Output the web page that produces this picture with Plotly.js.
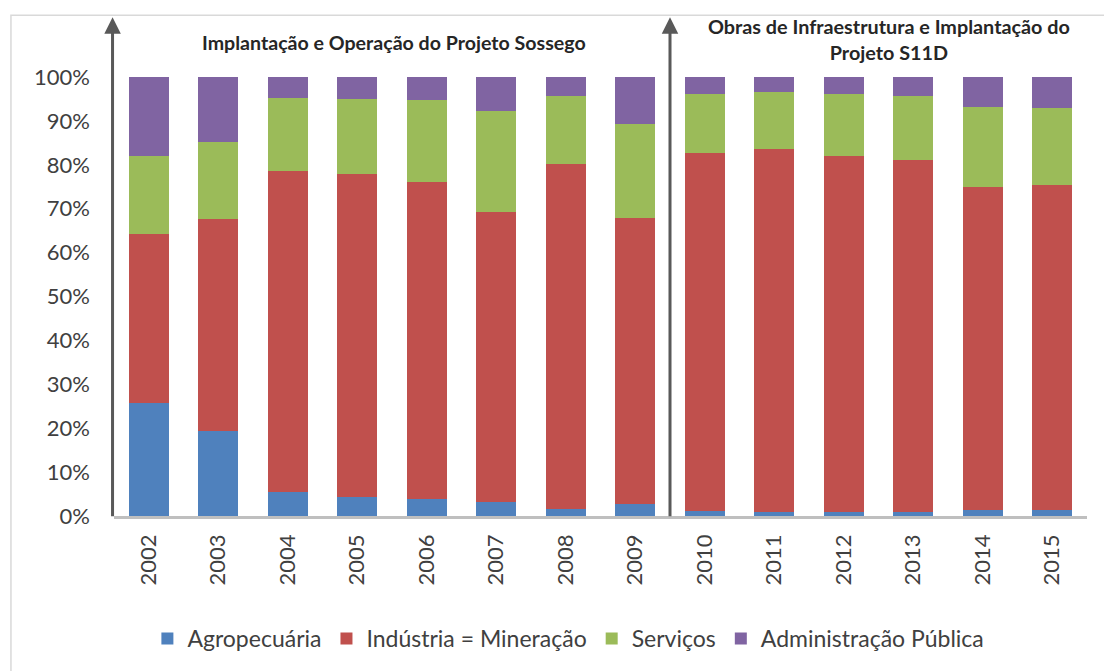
<!DOCTYPE html>
<html>
<head>
<meta charset="utf-8">
<script src="https://cdn.plot.ly/plotly-3.0.1.min.js"></script>
<style>html,body{margin:0;padding:0;background:#fff;}#chart{width:1104px;height:671px;}</style>
</head>
<body>
<div id="chart"></div>
<script>
const years = ['2002','2003','2004','2005','2006','2007','2008','2009','2010','2011','2012','2013','2014','2015'];
const agropecuaria = [25.8,19.4,5.5,4.4,3.9,3.3,1.5,2.7,1.1,0.8,0.8,0.9,1.3,1.3];
const industria = [38.4,48.3,73.1,73.6,72.2,65.9,78.6,65.2,81.5,82.8,81.2,80.2,73.7,74.1];
const servicos = [17.7,17.6,16.7,16.9,18.7,23.1,15.5,21.3,13.6,12.9,14.2,14.5,18.2,17.6];
const administracao = [18.1,14.7,4.7,5.1,5.2,7.7,4.4,10.8,3.8,3.5,3.8,4.4,6.8,7.0];
const seriesNames = ['Agropecuária','Indústria = Mineração','Serviços','Administração Pública'];
const seriesColors = ['#4F81BD','#C0504D','#9BBB59','#8064A2'];
const periodTitles = ['<b>Implantação e Operação do Projeto Sossego</b>','<b>Obras de Infraestrutura e Implantação do<br>Projeto S11D</b>'];

const FONT = 'Lato, "Open Sans", "Liberation Sans", sans-serif';
const values = [agropecuaria, industria, servicos, administracao];
const traces = values.map((v, i) => ({
  type: 'bar', name: seriesNames[i], x: years, y: v,
  marker: {color: seriesColors[i]}, hoverinfo: 'x+y+name'
}));

const arrow = (xref, x) => ({
  xref: xref, x: x, yref: 'paper', y: 1.136, text: ' ', showarrow: true,
  axref: 'pixel', ayref: 'pixel', ax: 0, ay: 500,
  font: {size: 1}, borderpad: 0,
  arrowhead: 2, arrowsize: 1.1, arrowwidth: 3, arrowcolor: '#595959', standoff: 0
});

const layout = {
  width: 1104, height: 671,
  margin: {l: 114, r: 17, t: 77, b: 154},
  paper_bgcolor: '#ffffff', plot_bgcolor: '#ffffff',
  barmode: 'stack', bargap: 0.425,
  font: {family: FONT, color: '#404040', size: 22},
  xaxis: {
    type: 'category', range: [-0.5, 13.5], tickangle: -90,
    showline: true, linecolor: '#bfbfbf', linewidth: 2.5,
    ticks: '', showgrid: false, zeroline: false, ticklabelstandoff: 7,
    tickfont: {family: FONT, size: 22, color: '#404040'}
  },
  yaxis: {
    range: [0, 100], dtick: 10, ticksuffix: '%', showgrid: false, zeroline: false,
    showline: false, ticks: '', ticklabelstandoff: 23,
    tickfont: {family: FONT, size: 22, color: '#404040'}
  },
  legend: {
    orientation: 'h', x: 0.467, xanchor: 'center', y: -0.276, yanchor: 'middle',
    font: {family: FONT, size: 23, color: '#404040'}, traceorder: 'normal'
  },
  annotations: [
    arrow('paper', -0.0015), arrow('x', 7.5),
    {xref: 'x', x: 3.535, yref: 'paper', y: 1.0795, text: periodTitles[0], showarrow: false,
     font: {family: FONT, size: 19.6, color: '#262626'}, xanchor: 'center', yanchor: 'middle'},
    {xref: 'x', x: 10.65, yref: 'paper', y: 1.0875, text: periodTitles[1], showarrow: false,
     font: {family: FONT, size: 19.8, color: '#262626'}, xanchor: 'center', yanchor: 'middle'}
  ],
  shapes: [
    {type: 'rect', xref: 'paper', yref: 'paper', x0: -0.1059, x1: 1.1, y0: -0.6, y1: 1.1409,
     line: {color: '#d9d9d9', width: 1.5}, fillcolor: 'rgba(0,0,0,0)', layer: 'below'}
  ]
};

Plotly.newPlot('chart', traces, layout, {displayModeBar: false, responsive: false});
</script>
</body>
</html>
